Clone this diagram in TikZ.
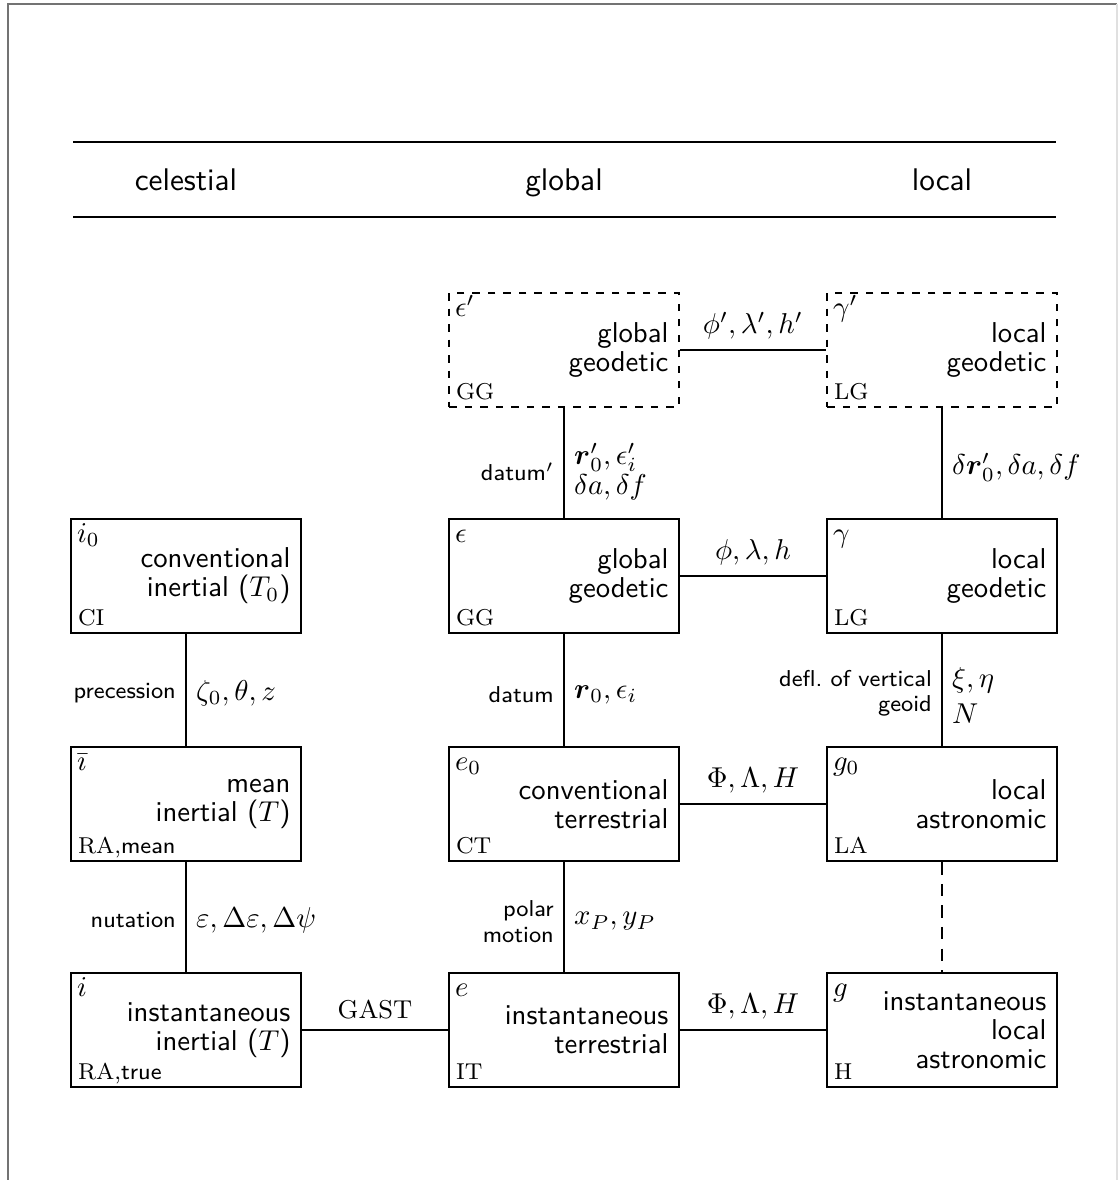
\documentclass[tikz,border=0pt]{standalone}
\usepackage{amsmath}
\usetikzlibrary{positioning}

\tikzset{
  sysframe/.style={draw, line width=0.7pt, rectangle,
    minimum width=79.8pt, minimum height=40pt,
    inner xsep=3.5pt, inner ysep=0pt, text width=72.8pt, align=right,
    font=\sffamily\fontsize{10}{10.1}\selectfont},
  dashedframe/.style={dash pattern=on 2.6pt off 2.8pt},
  symlabel/.style={anchor=base west, inner sep=0pt, font=\fontsize{10}{12}\selectfont},
  abbrlabel/.style={anchor=base west, inner sep=0pt, font=\rmfamily\fontsize{8}{10}\selectfont},
  conn/.style={line width=0.7pt},
  dashedconn/.style={line width=0.7pt, dash pattern=on 4.3pt off 3.2pt},
  wordlabel/.style={left, inner sep=3.2pt, align=right,
    font=\sffamily\fontsize{8}{8.9}\selectfont},
  mathlabel/.style={right, inner sep=3.2pt, align=left,
    font=\fontsize{10}{10.6}\selectfont},
  toplabel/.style={above, inner sep=3.3pt, font=\fontsize{10}{12}\selectfont},
  headlabel/.style={anchor=base, inner sep=0pt, font=\sffamily\fontsize{10.9}{13}\selectfont},
  headrule/.style={line width=0.7pt},
}

% frame node with its symbol (top left) and abbreviation (bottom left)
\newcommand{\sysbox}[6]{%
  \node[sysframe,#1] (#2) at #3 {#5};
  \node[symlabel] (#2-sym) at ([shift={(6,25)}]#2.north west) {#4};
  \node[abbrlabel] (#2-abbr) at ([shift={(7,-9)}]#2.south west) {#6};
}

\begin{document}
\begin{tikzpicture}[x=0.3484pt, y=-0.3484pt]
  \useasboundingbox (0,0) rectangle (1119,1180);

  % page frame
  \draw[line width=0.6pt, black!55] (8,1180) -- (8,4) -- (1117,4);
  \draw[line width=0.5pt, black!12] (1117,4) -- (1117,1180);

  % column headings
  \draw[headrule] (73,142) -- (1056,142);
  \draw[headrule] (73,217) -- (1056,217);
  \node[headlabel] (head-cel) at (186,191) {celestial};
  \node[headlabel] (head-glo) at (564,191) {global};
  \node[headlabel] (head-loc) at (942,191) {local};

  % reference frames
  \sysbox{dashedframe}{ggp}{(564,350)}{$\epsilon'$}{global\\geodetic}{GG}
  \sysbox{dashedframe}{lgp}{(942,350)}{$\gamma'$}{local\\geodetic}{LG}

  \sysbox{}{ci}{(186,576)}{$i_0$}{conventional\\inertial ($T_0$)}{CI}
  \sysbox{}{gg}{(564,576)}{$\epsilon$}{global\\geodetic}{GG}
  \sysbox{}{lg}{(942,576)}{$\gamma$}{local\\geodetic}{LG}

  \sysbox{}{mi}{(186,804)}{$\bar{\imath}$}{mean\\inertial ($T$)}{RA,\textsf{mean}}
  \sysbox{}{ct}{(564,804)}{$e_0$}{conventional\\terrestrial}{CT}
  \sysbox{}{la}{(942,804)}{$g_0$}{local\\astronomic}{LA}

  \sysbox{}{ii}{(186,1030)}{$i$}{instantaneous\\inertial ($T$)}{RA,\textsf{true}}
  \sysbox{}{it}{(564,1030)}{$e$}{instantaneous\\terrestrial}{IT}
  \sysbox{}{ha}{(942,1030)}{$g$}{instantaneous\\local\\astronomic}{H}

  % horizontal transformations
  \draw[conn] (ggp) -- node[toplabel] (l-ggp) {$\phi',\lambda',h'$} (lgp);
  \draw[conn] (gg) -- node[toplabel] (l-gg) {$\phi,\lambda,h$} (lg);
  \draw[conn] (ct) -- node[toplabel] (l-ct) {$\Phi,\Lambda,H$} (la);
  \draw[conn] (it) -- node[toplabel] (l-it) {$\Phi,\Lambda,H$} (ha);
  \draw[conn] (ii) -- node[toplabel, font=\rmfamily\fontsize{9}{11}\selectfont] (l-ii) {GAST} (it);

  % vertical transformations
  \draw[conn] (ggp) -- (gg)
    node[pos=0.58, wordlabel] (w-ggp) {datum$'$}
    node[pos=0.58, mathlabel] (m-ggp) {$\boldsymbol{r}'_0,\epsilon'_i$\\$\delta a,\delta f$};
  \draw[conn] (lgp) -- (lg)
    node[pos=0.54, mathlabel] (m-lgp) {$\delta\boldsymbol{r}'_0,\delta a,\delta f$};
  \draw[conn] (ci) -- (mi)
    node[pos=0.53, wordlabel] (w-ci) {precession}
    node[pos=0.53, mathlabel] (m-ci) {$\zeta_0,\theta,z$};
  \draw[conn] (gg) -- (ct)
    node[pos=0.54, wordlabel] (w-gg) {datum}
    node[pos=0.54, mathlabel] (m-gg) {$\boldsymbol{r}_0,\epsilon_i$};
  \draw[conn] (lg) -- (la)
    node[pos=0.53, wordlabel] (w-lg) {defl.\ of vertical\\geoid}
    node[pos=0.55, mathlabel] (m-lg) {$\xi,\eta$\\[1.8pt]$N$};
  \draw[conn] (mi) -- (ii)
    node[pos=0.53, wordlabel] (w-mi) {nutation}
    node[pos=0.53, mathlabel] (m-mi) {$\varepsilon,\Delta\varepsilon,\Delta\psi$};
  \draw[conn] (ct) -- (it)
    node[pos=0.54, wordlabel] (w-ct) {polar\\motion}
    node[pos=0.54, mathlabel] (m-ct) {$x_P,y_P$};
  \draw[dashedconn] (la) -- (ha);
\end{tikzpicture}
\end{document}
